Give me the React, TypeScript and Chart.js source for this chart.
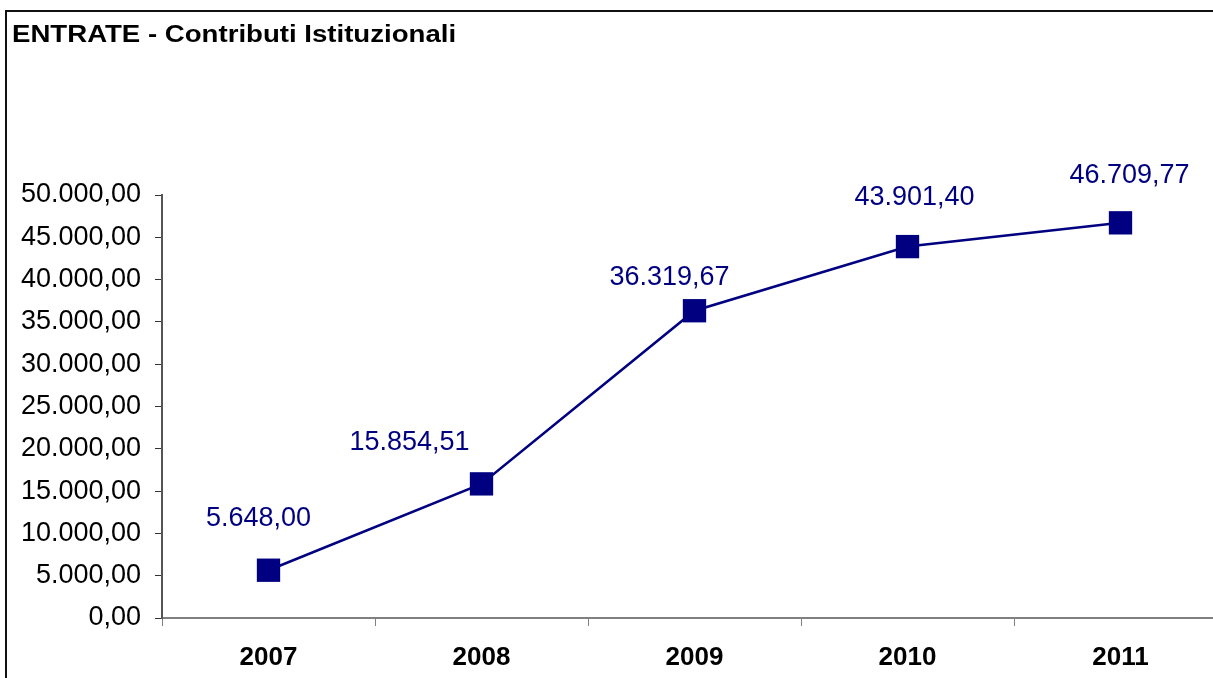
import React, { useEffect, useRef } from 'react';
import { Chart, registerables } from 'chart.js';

Chart.register(...registerables);

const chartTitle = 'ENTRATE - Contributi Istituzionali';
const categories = ['2007', '2008', '2009', '2010', '2011'];
const values = [5648.0, 15854.51, 36319.67, 43901.4, 46709.77];
const yMin = 0;
const yMax = 50000;
const yStep = 5000;
// placement of each value label relative to its point (style only)
const labelDx = [-10, -72, -25, 7, 9];
const labelDy = [-44, -34, -26, -42, -40];

const FONT = "'Liberation Sans', Arial, sans-serif";
const NAVY = '#000080';

function fmt(v: number): string {
  const [i, d] = v.toFixed(2).split('.');
  const g = i.replace(/\B(?=(\d{3})+(?!\d))/g, '.');
  return g + ',' + d;
}

const framePlugin = {
  id: 'frame',
  beforeDraw(chart: any) {
    const ctx = chart.ctx;
    ctx.save();
    ctx.fillStyle = '#fff';
    ctx.fillRect(0, 0, chart.width, chart.height);
    ctx.strokeStyle = '#111';
    ctx.lineWidth = 2;
    ctx.beginPath();
    ctx.moveTo(6, chart.height + 5);
    ctx.lineTo(6, 11);
    ctx.lineTo(chart.width + 5, 11);
    ctx.stroke();
    ctx.restore();
  },
};

const titlePlugin = {
  id: 'customTitle',
  afterDraw(chart: any) {
    const ctx = chart.ctx;
    ctx.save();
    ctx.font = `bold 23px ${FONT}`;
    ctx.fillStyle = '#000';
    ctx.textAlign = 'left';
    ctx.textBaseline = 'alphabetic';
    ctx.translate(12, 42);
    ctx.scale(1.2, 1);
    ctx.fillText(chartTitle, 0, 0);
    ctx.restore();
  },
};

const valueLabelPlugin = {
  id: 'valueLabels',
  afterDatasetsDraw(chart: any) {
    const ctx = chart.ctx;
    const meta = chart.getDatasetMeta(0);
    ctx.save();
    ctx.font = `27px ${FONT}`;
    ctx.fillStyle = NAVY;
    ctx.textAlign = 'center';
    ctx.textBaseline = 'alphabetic';
    meta.data.forEach((pt: any, i: number) => {
      ctx.fillText(fmt(values[i]), pt.x + labelDx[i], pt.y + labelDy[i]);
    });
    ctx.restore();
  },
};

export default function App() {
  const ref = useRef<HTMLCanvasElement | null>(null);

  useEffect(() => {
    if (!ref.current) return;
    const chart = new Chart(ref.current, {
      type: 'line',
      data: {
        labels: categories,
        datasets: [
          {
            data: values,
            borderColor: NAVY,
            borderWidth: 2.5,
            backgroundColor: NAVY,
            pointStyle: 'rect',
            pointRadius: 16.5,
            pointHoverRadius: 16.5,
            pointBackgroundColor: NAVY,
            pointBorderColor: NAVY,
            pointBorderWidth: 0,
            tension: 0,
            clip: false as any,
          },
        ],
      },
      options: {
        animation: false,
        responsive: false,
        devicePixelRatio: 1,
        layout: { autoPadding: false, padding: { top: 195, right: 13, left: 0, bottom: 0 } },
        plugins: {
          legend: { display: false },
          tooltip: { enabled: false },
          title: { display: false },
        },
        scales: {
          x: {
            type: 'category',
            offset: true,
            grid: {
              display: true,
              drawOnChartArea: false,
              drawTicks: true,
              tickLength: 8,
              color: '#808080',
              offset: true,
            },
            border: { display: true, color: '#808080', width: 2 },
            ticks: {
              font: { family: FONT, size: 26, weight: 'bold' },
              color: '#000',
              padding: 16,
              maxRotation: 0,
              autoSkip: false,
            },
            afterFit: (s: any) => {
              s.height = 60;
            },
          },
          y: {
            min: yMin,
            max: yMax,
            ticks: {
              stepSize: yStep,
              callback: (v: any) => fmt(Number(v)),
              font: { family: FONT, size: 27 },
              color: '#000',
              padding: 14,
            },
            grid: {
              drawOnChartArea: false,
              drawTicks: true,
              tickLength: 7,
              color: '#333',
            },
            border: { display: true, color: '#555', width: 2 },
            afterFit: (s: any) => {
              s.width = 162;
            },
          },
        },
      },
      plugins: [framePlugin, titlePlugin, valueLabelPlugin],
    });
    return () => chart.destroy();
  }, []);

  return (
    <div
      style={{
        position: 'fixed',
        left: 0,
        top: 0,
        width: 1213,
        height: 678,
        overflow: 'hidden',
        background: '#fff',
      }}
    >
      <canvas
        ref={ref}
        width={1240}
        height={678}
        style={{ position: 'absolute', left: 0, top: 0, width: 1240, height: 678 }}
      />
    </div>
  );
}
